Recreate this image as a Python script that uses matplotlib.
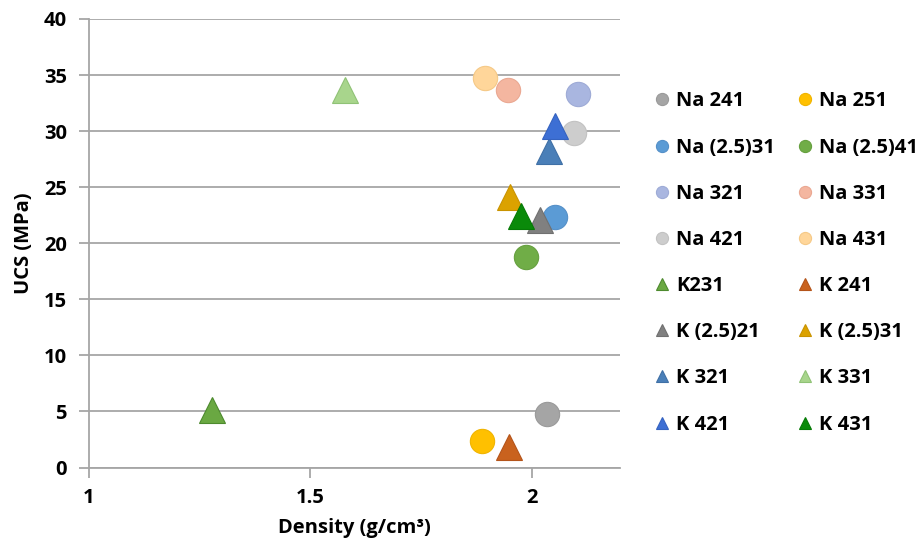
import matplotlib
matplotlib.use("Agg")
import matplotlib.pyplot as plt
from matplotlib.font_manager import FontProperties

# Sample series: name, density (g/cm3), UCS (MPa)
series = ["Na 241", "Na 251", "Na (2.5)31", "Na (2.5)41", "Na 321", "Na 331",
          "Na 421", "Na 431", "K231", "K 241", "K (2.5)21", "K (2.5)31",
          "K 321", "K 331", "K 421", "K 431"]
density = [2.036, 1.889, 2.052, 1.987, 2.106, 1.947, 2.097, 1.894,
           1.278, 1.950, 2.019, 1.952, 2.040, 1.578, 2.054, 1.977]
ucs = [4.8, 2.4, 22.3, 18.8, 33.3, 33.7, 29.8, 34.7,
       5.1, 1.8, 22.1, 24.1, 28.2, 33.7, 30.5, 22.4]
markers = ["o"] * 8 + ["^"] * 8
colors = ["#a5a5a5", "#ffc000", "#5b9bd5", "#70ad47", "#a9b6e0", "#f4b6a0",
          "#cdcdcd", "#ffd69a", "#6aa842", "#c9621e", "#808080", "#dba200",
          "#4a7fb8", "#a8d58c", "#3d6fd4", "#0a8a0a"]
edges = ["#9a9a9a", "#f0b400", "#5590c8", "#66a040", "#9eabd6", "#eaa892",
         "#c2c2c2", "#f5c987", "#4d8a2e", "#b4541a", "#707070", "#c99300",
         "#3f70a6", "#8fc276", "#3563c0", "#067a06"]

x_ticks = [1, 1.5, 2]
y_ticks = [0, 5, 10, 15, 20, 25, 30, 35, 40]

FS = 14.5
bold = FontProperties(family=['Open Sans', 'DejaVu Sans'], weight='bold', size=FS)

# tick and grid styling set up front so the ticks are born with it
plt.rcParams.update({
    "xtick.color": "#a6a6a6", "ytick.color": "#a6a6a6",
    "xtick.labelcolor": "black", "ytick.labelcolor": "black",
    "xtick.major.size": 7, "ytick.major.size": 7,
    "xtick.major.width": 1.3, "ytick.major.width": 1.3,
    "xtick.major.pad": 8, "ytick.major.pad": 9,
    "axes.grid": True, "axes.grid.axis": "y", "axes.axisbelow": True,
    "grid.color": "#a6a6a6", "grid.linewidth": 1.3,
    "axes.edgecolor": "#a6a6a6", "axes.linewidth": 1.3,
    "axes.spines.top": False, "axes.spines.right": False,
})

fig = plt.figure(figsize=(9.22, 5.44), dpi=100)
ax = fig.add_axes([0.0965, 0.1406, 0.5760, 0.8245])

handles = []
for name, xv, yv, m, c, e in zip(series, density, ucs, markers, colors, edges):
    ms = 17.5 if m == "o" else 18.5
    h, = ax.plot([xv], [yv], linestyle="none", marker=m, markersize=ms,
                 markerfacecolor=c, markeredgecolor=e, markeredgewidth=0.8,
                 label=name, zorder=3)
    handles.append(h)

ax.set_xlim(1, 2.2)
ax.set_ylim(0, 40)
ax.set_xticks(x_ticks)
ax.set_xticklabels([f"{t:g}" for t in x_ticks], fontproperties=bold)
ax.set_yticks(y_ticks)
ax.set_yticklabels([f"{t:g}" for t in y_ticks], fontproperties=bold)

ax.set_xlabel("Density (g/cm³)", fontproperties=bold, labelpad=7)
ax.set_ylabel("UCS (MPa)", fontproperties=bold, labelpad=7)

# row-major legend order for two columns
order = list(range(0, 16, 2)) + list(range(1, 16, 2))
leg = fig.legend([handles[i] for i in order], [series[i] for i in order],
                 ncol=2, loc="upper left", bbox_to_anchor=(0.709, 0.832),
                 frameon=False, prop=bold,
                 markerscale=0.5, handlelength=0.8, handletextpad=0.3,
                 columnspacing=1.1, labelspacing=1.3, borderaxespad=0,
                 borderpad=0)

fig.savefig("out.png", dpi=100)
